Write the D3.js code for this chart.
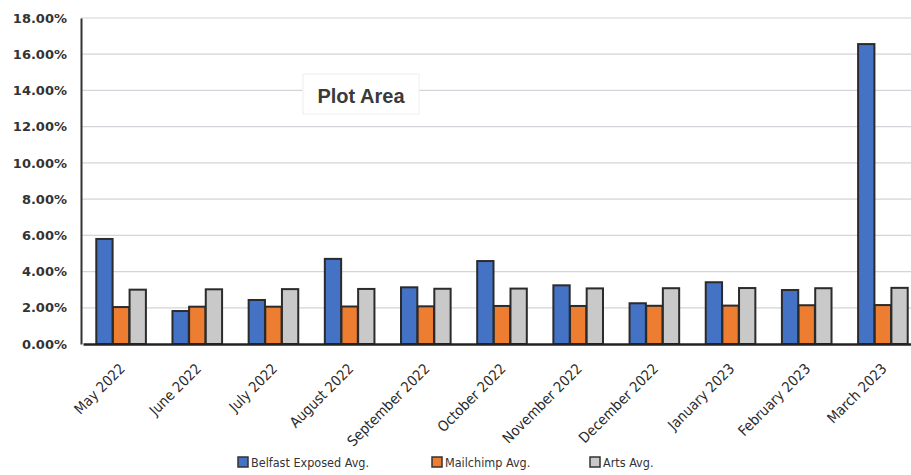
<!DOCTYPE html>
<html>
<head>
<meta charset="utf-8">
<script src="https://cdn.jsdelivr.net/npm/d3@7"></script>
<style>
  body { margin: 0; background: #fff; }
  svg { display: block; }
</style>
</head>
<body>
<svg id="chart" width="911" height="475"></svg>
<script>
// data
var months = ["May 2022", "June 2022", "July 2022", "August 2022", "September 2022",
  "October 2022", "November 2022", "December 2022", "January 2023", "February 2023", "March 2023"];
var belfast = [5.8, 1.82, 2.43, 4.7, 3.13, 4.58, 3.24, 2.25, 3.41, 2.98, 16.56];
var mailchimp = [2.04, 2.06, 2.06, 2.07, 2.08, 2.1, 2.1, 2.11, 2.12, 2.14, 2.15];
var arts = [3.0, 3.02, 3.03, 3.04, 3.05, 3.06, 3.07, 3.08, 3.09, 3.08, 3.1];
var seriesNames = ["Belfast Exposed Avg.", "Mailchimp Avg.", "Arts Avg."];
var seriesColors = ["#4472c4", "#ed7d31", "#c9c9c9"];
var yTicks = [0, 2, 4, 6, 8, 10, 12, 14, 16, 18];

var svg = d3.select("#chart");
var plotL = 81, plotR = 911, plotT = 18, plotB = 344;

var x = d3.scaleBand().domain(months).range([plotL + 2, plotR + 10]).paddingInner(0.34).paddingOuter(0.17);
var xs = d3.scaleBand().domain(d3.range(3)).range([0, x.bandwidth()]).padding(0.02);
var y = d3.scaleLinear().domain([0, 18]).range([plotB, plotT]);

var rows = months.map(function(m, i) { return { m: m, v: [belfast[i], mailchimp[i], arts[i]] }; });

// gridlines
svg.append("g").selectAll("line")
  .data(yTicks.slice(1))
  .enter().append("line")
  .attr("x1", plotL).attr("x2", plotR)
  .attr("y1", function(d) { return y(d); }).attr("y2", function(d) { return y(d); })
  .attr("stroke", "#d4d4da").attr("stroke-width", 1.2);

// plot area label
var pa = svg.append("g");
pa.append("rect").attr("x", 303).attr("y", 74).attr("width", 116).attr("height", 40)
  .attr("fill", "#fff").attr("stroke", "#eeeeee");
pa.append("text").attr("x", 361).attr("y", 103).attr("text-anchor", "middle")
  .attr("font-family", "Arial, 'Liberation Sans', sans-serif").attr("font-size", 20)
  .attr("font-weight", "bold")
  .attr("fill", "#3a3a3a").text("Plot Area");

// bars
var groups = svg.append("g").selectAll("g")
  .data(rows).enter().append("g")
  .attr("transform", function(d) { return "translate(" + x(d.m) + ",0)"; });
groups.selectAll("rect")
  .data(function(d) { return d.v; })
  .enter().append("rect")
  .attr("x", function(d, i) { return xs(i); })
  .attr("y", function(d) { return y(d); })
  .attr("width", xs.bandwidth())
  .attr("height", function(d) { return plotB - y(d); })
  .attr("fill", function(d, i) { return seriesColors[i]; })
  .attr("stroke", "#2b2b2b").attr("stroke-width", 2);

// y axis
var yAxis = svg.append("g").attr("transform", "translate(" + plotL + ",0)")
  .call(d3.axisLeft(y).tickValues(yTicks).tickSize(0).tickPadding(14)
    .tickFormat(function(d) { return d3.format(".2f")(d) + "%"; }));
yAxis.select(".domain").attr("stroke", "#333").attr("stroke-width", 2);
yAxis.selectAll("text").attr("font-family", "'DejaVu Sans', sans-serif")
  .attr("font-size", 13).attr("font-weight", "bold").attr("fill", "#333");

// x axis
var xAxis = svg.append("g").attr("transform", "translate(0," + plotB + ")")
  .call(d3.axisBottom(x).tickSize(0).tickPadding(8));
xAxis.select(".domain").attr("stroke", "#222").attr("stroke-width", 2.5);
xAxis.selectAll("text")
  .attr("font-family", "'DejaVu Sans Condensed', 'DejaVu Sans', sans-serif").attr("font-size", 14.5)
  .attr("fill", "#2a2a2a")
  .attr("text-anchor", "end")
  .attr("dy", "0.3em")
  .attr("transform", "translate(-4,17) rotate(-45)");

// legend
var legend = svg.append("g").attr("transform", "translate(238,467)");
var legX = [0, 194, 352];
var li = legend.selectAll("g").data(seriesNames).enter().append("g")
  .attr("transform", function(d, i) { return "translate(" + legX[i] + ",0)"; });
li.append("rect").attr("x", 0).attr("y", -10).attr("width", 10).attr("height", 10)
  .attr("fill", function(d, i) { return seriesColors[i]; })
  .attr("stroke", "#333").attr("stroke-width", 1.5);
li.append("text").attr("x", 13).attr("y", 0)
  .attr("font-family", "'DejaVu Sans Condensed', 'DejaVu Sans', sans-serif").attr("font-size", 12.5)
  .attr("fill", "#333").text(function(d) { return d; });
</script>
</body>
</html>
